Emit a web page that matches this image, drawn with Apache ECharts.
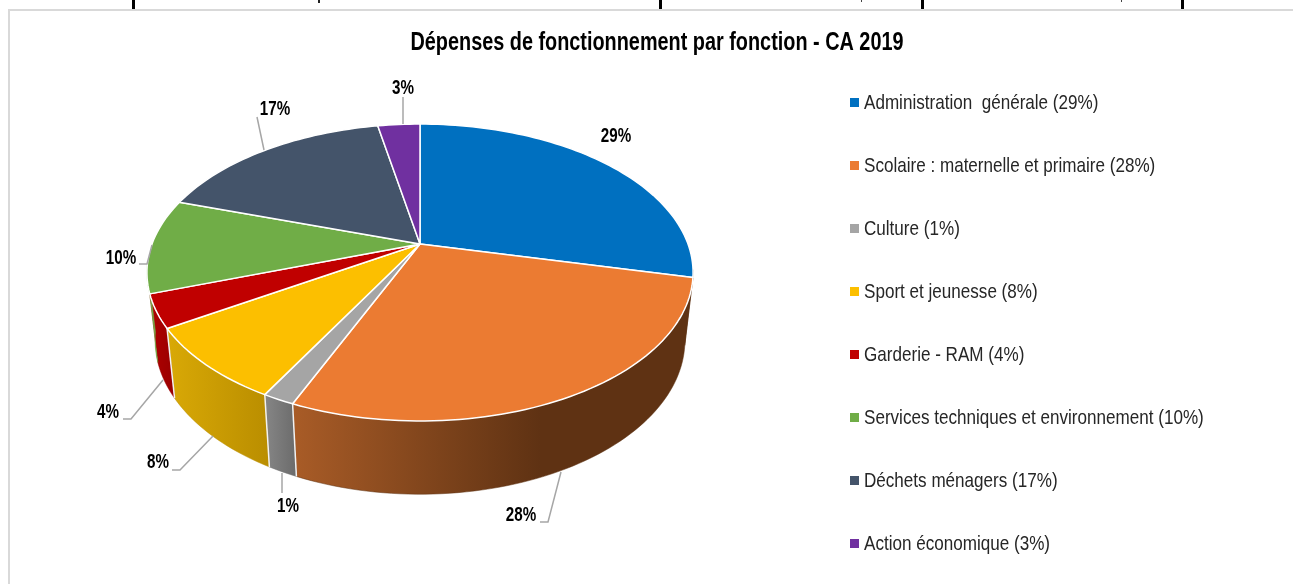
<!DOCTYPE html>
<html>
<head>
<meta charset="utf-8">
<title>Dépenses de fonctionnement par fonction - CA 2019</title>
<script src="https://cdn.jsdelivr.net/npm/echarts@6/dist/echarts.min.js"></script>
<style>
    html, body { margin: 0; padding: 0; background: #fff; }
    #chart { width: 1293px; height: 584px; }
</style>
</head>
<body>
<div id="chart"></div>
<script>
const categories = [
    'Administration  générale (29%)',
    'Scolaire : maternelle et primaire (28%)',
    'Culture (1%)',
    'Sport et jeunesse (8%)',
    'Garderie - RAM (4%)',
    'Services techniques et environnement (10%)',
    'Déchets ménagers (17%)',
    'Action économique (3%)'
];
const values = [28.6, 27.8, 1.6, 8.1, 3.6, 10.3, 17, 3];
const percentLabels = ['29%', '28%', '1%', '8%', '4%', '10%', '17%', '3%'];

const colors = ['#0070C0', '#EB7B32', '#A5A5A5', '#FCBF00', '#C00000', '#70AD47', '#44546A', '#7030A0'];
// side wall shading: x from, x to, colour from, colour to
const wallShades = [
    [600, 700, '#5F3213', '#5F3213'],
    [292, 540, '#A95C27', '#5F3213'],
    [265, 295, '#868686', '#6C6C6C'],
    [167, 268, '#D9A906', '#BA8E00'],
    [150, 175, '#B00000', '#980000'],
    [147, 155, '#70AD47', '#70AD47'],
    [0, 1, '#333', '#333'],
    [0, 1, '#333', '#333']
];
// label position and leader line of each slice
const labelPos = [[616, 136], [521, 515], [288, 506], [158, 462], [108, 412], [121, 258], [275, 109], [403, 88]];
const leaders = [
    null,
    [[561, 472], [548, 522], [540, 522]],
    [[282, 473], [282, 493]],
    [[213, 436], [180, 470], [172, 470]],
    [[163, 380], [131, 419], [123, 419]],
    [[152, 245], [147, 264], [139, 264]],
    [[264, 150], [257, 117]],
    [[403, 97], [403, 124]]
];

const FONT = '"Liberation Sans", Arial, sans-serif';
// the only sans here is wider than the narrow face of the original
const LABEL_NARROW = 0.76, LEGEND_NARROW = 0.813, TITLE_NARROW = 0.794;
const LEGEND_TOP = 102, LEGEND_STEP = 63;

const topRing = { cx: 420, cy: 244, a: 268, b: 143 };
const bottomRing = { cx: 420, cy: 310.7, a: 260, b: 148.3 };
const SKEW = -0.192;   // perspective of the ellipse
const WALL_FROM = 100, WALL_TO = 262;   // only this part of the side can be seen

const total = values.reduce((s, v) => s + v, 0);
function cumulative(i) {
    let sum = 0;
    for (let k = 0; k < i; k++) sum += values[k];
    return sum;
}
function toDegree(v) {
    return echarts.number.linearMap(v, [0, total], [0, 360]);
}
function ringPoint(ring, deg) {
    const t = deg * Math.PI / 180;
    const u = Math.sin(t), v = -Math.cos(t);
    const d = 1 + SKEW * v;
    return [ring.cx + ring.a * u / d, ring.cy + ring.b * v / d];
}
function arc(ring, from, to) {
    const pts = [];
    const n = Math.max(2, Math.ceil((to - from) / 1.5));
    for (let i = 0; i <= n; i++) {
        pts.push(ringPoint(ring, from + (to - from) * i / n));
    }
    return pts;
}

function renderSlice(index) {
    return function () {
        const from = toDegree(cumulative(index));
        const to = toDegree(cumulative(index) + values[index]);
        const children = [];

        children.push({
            type: 'polygon',
            z2: 10,
            shape: { points: [[topRing.cx, topRing.cy]].concat(arc(topRing, from, to)) },
            style: { fill: colors[index], stroke: '#fff', lineWidth: 1.5, lineJoin: 'round' }
        });

        const wallFrom = Math.max(from, WALL_FROM), wallTo = Math.min(to, WALL_TO);
        if (wallTo > wallFrom) {
            const s = wallShades[index];
            const top = arc(topRing, wallFrom, wallTo);
            const bottom = arc(bottomRing, wallFrom, wallTo).reverse();
            children.push({
                type: 'polygon',
                z2: 1,
                shape: { points: top.concat(bottom) },
                style: {
                    fill: new echarts.graphic.LinearGradient(s[0], 0, s[1], 0, [
                        { offset: 0, color: s[2] },
                        { offset: 1, color: s[3] }
                    ], true),
                    stroke: s[3],
                    lineWidth: 0.5
                }
            });
            // white edge between two walls, front ones only
            if (from > 180 && from < 245) {
                children.push({
                    type: 'polyline',
                    z2: 2,
                    shape: { points: [ringPoint(topRing, from), ringPoint(bottomRing, from)] },
                    style: { fill: null, stroke: '#f2f2f2', lineWidth: 1.5 }
                });
            }
        }

        if (leaders[index]) {
            children.push({
                type: 'polyline',
                z2: 12,
                shape: { points: leaders[index] },
                style: { fill: null, stroke: '#A6A6A6', lineWidth: 1.5 }
            });
        }
        children.push({
            type: 'text',
            z2: 13,
            x: labelPos[index][0],
            y: labelPos[index][1],
            scaleX: LABEL_NARROW,
            style: {
                x: 0,
                y: 0,
                text: percentLabels[index],
                fill: '#000',
                font: 'bold 20px ' + FONT,
                align: 'center',
                verticalAlign: 'middle'
            }
        });

        // legend row
        const rowY = LEGEND_TOP + LEGEND_STEP * index;
        children.push({
            type: 'rect',
            z2: 13,
            shape: { x: 850, y: rowY - 4, width: 9, height: 9 },
            style: { fill: colors[index] }
        });
        children.push({
            type: 'text',
            z2: 13,
            x: 864,
            y: rowY + 1,
            scaleX: LEGEND_NARROW,
            style: {
                x: 0,
                y: 0,
                text: categories[index],
                fill: '#262626',
                font: '21px ' + FONT,
                align: 'left',
                verticalAlign: 'middle'
            }
        });
        return { type: 'group', children: children };
    };
}

const chart = echarts.init(document.getElementById('chart'));

const series = [];
categories.forEach(function (name, i) {
    series.push({
        name: name,
        type: 'custom',
        coordinateSystem: 'none',
        silent: true,
        renderItem: renderSlice(i),
        data: [values[i]]
    });
});

// bits of the page table above the chart and the chart frame
const graphics = [];
[133, 660, 922, 1182].forEach(function (x) {
    graphics.push({ type: 'rect', shape: { x: x - 1, y: 0, width: 3, height: 9 }, style: { fill: '#000' } });
});
graphics.push({ type: 'rect', shape: { x: 318, y: 0, width: 2, height: 3 }, style: { fill: '#222' } });
graphics.push({ type: 'rect', shape: { x: 861, y: 0, width: 1, height: 2 }, style: { fill: '#444' } });
graphics.push({ type: 'rect', shape: { x: 1121, y: 0, width: 1, height: 2 }, style: { fill: '#444' } });
graphics.push({ type: 'rect', shape: { x: 8, y: 9, width: 1285, height: 2 }, style: { fill: '#D9D9D9' } });
graphics.push({ type: 'rect', shape: { x: 8, y: 9, width: 2, height: 575 }, style: { fill: '#D9D9D9' } });
graphics.push({
    type: 'text',
    x: 657,
    y: 43,
    scaleX: TITLE_NARROW,
    style: {
        x: 0,
        y: 0,
        text: 'Dépenses de fonctionnement par fonction - CA 2019',
        fill: '#000',
        font: 'bold 25px ' + FONT,
        align: 'center',
        verticalAlign: 'middle'
    }
});

chart.setOption({
    animation: false,
    backgroundColor: '#fff',
    graphic: graphics,
    series: series
});
</script>
</body>
</html>
